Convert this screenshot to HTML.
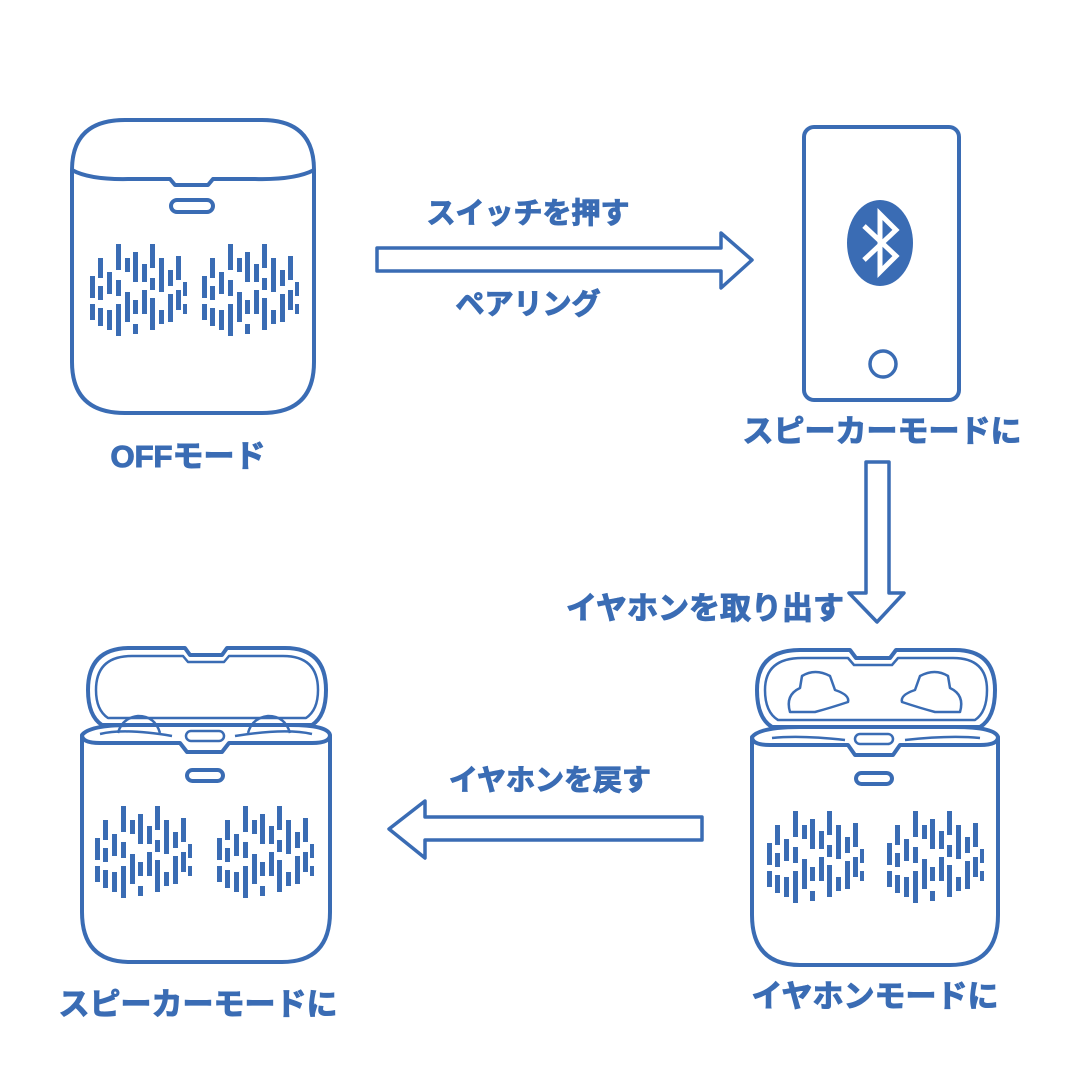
<!DOCTYPE html>
<html><head><meta charset="utf-8"><style>
html,body{margin:0;padding:0;background:#fff;}
svg{display:block}
text{font-family:"Liberation Sans","Noto Sans CJK JP",sans-serif;font-weight:bold;fill:#3a6cb4;stroke:#3a6cb4;stroke-width:1.1;text-anchor:middle}
</style></head><body>
<svg width="1080" height="1092" viewBox="0 0 1080 1092" xmlns="http://www.w3.org/2000/svg">
<defs>
<g id="gr" fill="#3a6cb4">
<rect x="-48" y="-12" width="5" height="22"/><rect x="-48" y="16" width="5" height="16"/>
<rect x="-40" y="-30" width="5" height="20"/><rect x="-40" y="-2" width="5" height="14"/><rect x="-40" y="20" width="5" height="18"/>
<rect x="-31" y="-16" width="5" height="22"/><rect x="-31" y="22" width="5" height="20"/>
<rect x="-22" y="-44" width="5" height="26"/><rect x="-22" y="-8" width="5" height="16"/><rect x="-22" y="16" width="5" height="32"/>
<rect x="-13" y="-30" width="5" height="14"/><rect x="-13" y="4" width="5" height="30"/>
<rect x="-5" y="-36" width="5" height="30"/><rect x="-5" y="12" width="5" height="14"/><rect x="-5" y="36" width="5" height="10"/>
<rect x="4" y="-24" width="5" height="18"/><rect x="4" y="2" width="5" height="24"/>
<rect x="12" y="-44" width="5" height="24"/><rect x="12" y="-10" width="5" height="12"/><rect x="12" y="10" width="5" height="32"/>
<rect x="21" y="-30" width="5" height="34"/><rect x="21" y="22" width="5" height="14"/>
<rect x="30" y="-18" width="5" height="16"/><rect x="30" y="6" width="5" height="28"/>
<rect x="38" y="-32" width="5" height="24"/><rect x="38" y="2" width="5" height="20"/>
<rect x="45" y="-6" width="4" height="14"/><rect x="45" y="16" width="4" height="10"/>
</g>
</defs>
<g fill="none" stroke="#3a6cb4" stroke-width="4" stroke-linejoin="round">
<path d="M72 170 Q72 120 125 120 L262 120 Q314 120 314 170 L314 362 Q314 413 262 413 L125 413 Q72 413 72 362 Z"/>
<path d="M72 170 Q90 180 130 179 L170 179 L175 185 L208 185 L213 179 L255 179 Q295 180 314 170"/>
<rect x="171" y="200" width="42" height="12" rx="6"/>
<rect x="804" y="127" width="155" height="273" rx="10"/>
<circle cx="883" cy="364" r="13" stroke-width="3.5"/>
<path d="M377 248 L721 248 L721 233 L752 260 L721 288 L721 271 L377 271 Z" stroke-width="3.5"/>
<path d="M866 462 L889 462 L889 593 L904 593 L877 622 L849 593 L866 593 Z" stroke-width="3.5"/>
<path d="M702 817 L425 817 L425 801 L389 829 L425 858 L425 840 L702 840 Z" stroke-width="3.5"/>
</g>
<use href="#gr" x="138" y="288"/>
<use href="#gr" x="250" y="288"/>
<ellipse cx="880" cy="243" rx="33" ry="43" fill="#3a6cb4"/>
<path d="M864 226 L896 256 L880 272 L880 214 L896 230 L864 260" fill="none" stroke="#fff" stroke-width="5"/>
<g fill="none" stroke="#3a6cb4" stroke-width="4" stroke-linejoin="round">
<path d="M757 690 Q757 650 800 650 L850 650 L856 658 L890 658 L896 650 L955 650 Q995 650 995 690 Q995 718 980 727 L772 727 Q757 718 757 690 Z"/>
<path d="M765 690 Q765 658 802 658 L848 658 L854 665 L892 665 L898 658 L953 658 Q987 658 987 690 Q987 712 975 720 L778 720 Q765 712 765 690 Z" stroke-width="2.5"/>
<path d="M752 737 Q760 727 800 727 L955 727 Q995 727 998 737 L998 915 Q998 965 950 965 L800 965 Q752 965 752 915 Z"/>
<path d="M752 737 Q752 745 770 745 L848 745 L855 755 L893 755 L900 745 L980 745 Q998 745 998 737"/>
<path d="M772 738 Q800 735 845 740 M905 740 Q950 735 980 738" stroke-width="2.5"/>
<rect x="855" y="734" width="38" height="10" rx="5" stroke-width="2.5"/>
<rect x="856" y="773" width="36" height="11" rx="5.5"/>
<path d="M790 712 Q785 695 800 688 L802 676 Q815 668 830 676 L835 690 Q850 695 848 702 Q830 708 815 712 Z" stroke-width="2.5"/>
<path d="M960 712 Q965 695 950 688 L948 676 Q935 668 920 676 L915 690 Q900 695 902 702 Q920 708 935 712 Z" stroke-width="2.5"/>
</g>
<use href="#gr" x="815" y="855"/>
<use href="#gr" x="935" y="855"/>
<g fill="none" stroke="#3a6cb4" stroke-width="4" stroke-linejoin="round">
<path d="M88 690 Q88 648 130 648 L185 648 L190 655 L222 655 L227 648 L285 648 Q326 648 326 690 Q326 716 312 725 L102 725 Q88 716 88 690 Z"/>
<path d="M96 690 Q96 656 132 656 L183 656 L188 662 L224 662 L229 656 L283 656 Q318 656 318 690 Q318 710 306 718 L108 718 Q96 710 96 690 Z" stroke-width="2.5"/>
<path d="M82 735 Q90 725 130 725 L290 725 Q328 725 330 735 L330 912 Q330 962 282 962 L130 962 Q82 962 82 912 Z"/>
<path d="M82 735 Q82 743 100 743 L180 743 L187 752 L222 752 L229 743 L312 743 Q330 743 330 735"/>
<path d="M100 734 Q125 728 172 736 M235 736 Q285 728 312 734" stroke-width="2.5"/>
<rect x="186" y="731" width="38" height="10" rx="5" stroke-width="2.5"/>
<rect x="187" y="770" width="36" height="11" rx="5.5"/>
<path d="M118 733 Q122 718 138 716 Q155 716 160 733" stroke-width="2.5"/>
<path d="M248 733 Q252 718 268 716 Q285 716 290 733" stroke-width="2.5"/>
</g>
<use href="#gr" x="143" y="850"/>
<use href="#gr" x="265" y="850"/>
<text x="188" y="467" font-size="31">OFFモード</text>
<text x="528" y="223" font-size="29">スイッチを押す</text>
<text x="528" y="314" font-size="29">ペアリング</text>
<text x="882" y="442" font-size="31">スピーカーモードに</text>
<text x="705" y="619" font-size="31">イヤホンを取り出す</text>
<text x="550" y="790" font-size="29">イヤホンを戻す</text>
<text x="875" y="1007" font-size="31">イヤホンモードに</text>
<text x="198" y="1015" font-size="31">スピーカーモードに</text>
</svg>
</body></html>
